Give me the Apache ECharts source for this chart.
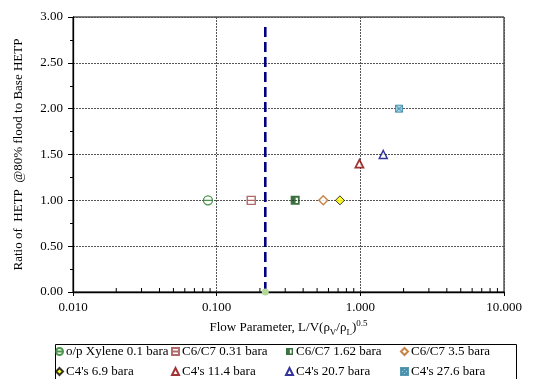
<!DOCTYPE html>
<html>
<head>
<meta charset="utf-8">
<script src="https://cdn.jsdelivr.net/npm/echarts@6/dist/echarts.min.js"></script>
<style>
  html, body { margin: 0; padding: 0; background: #fff; }
  #c { width: 545px; height: 379px; }
</style>
</head>
<body>
<div id="c"></div>
<script>
// ---------- data ----------
const seriesNames = [
  "o/p Xylene 0.1 bara", "C6/C7 0.31 bara", "C6/C7 1.62 bara", "C6/C7 3.5 bara",
  "C4's 6.9 bara", "C4's 11.4 bara", "C4's 20.7 bara", "C4's 27.6 bara"
];
const flowParam = [0.087, 0.174, 0.352, 0.552, 0.721, 0.985, 1.444, 1.86];
const hetpRatio = [1.00, 1.00, 1.00, 1.00, 1.00, 1.40, 1.50, 2.00];

// vertical dashed flood-parameter marker
const markerX = 0.218;
const markerY = [0, 2.93];

// log-axis minor tick positions (2..9 per decade)
const xMinorTicks = [
  0.02, 0.03, 0.04, 0.05, 0.06, 0.07, 0.08, 0.09,
  0.2, 0.3, 0.4, 0.5, 0.6, 0.7, 0.8, 0.9,
  2, 3, 4, 5, 6, 7, 8, 9
];

// ---------- marker styles ----------
const FONT = "'Liberation Serif', 'Times New Roman', serif";
const styles = [
  { symbol: "path://M0,5A5,5 0 1,0 10,5A5,5 0 1,0 0,5Z M0,5L10,5", size: 9,
    itemStyle: { color: "#fff", borderColor: "#1f7a1f", borderWidth: 1.3 } },
  { symbol: "path://M0,0H10V10H0Z M0,5H10", size: 8,
    itemStyle: { color: "#fff", borderColor: "#a04545", borderWidth: 1.4 } },
  { symbol: "path://M0,0H10V10H0Z M5.5,2V8H8V2Z", size: 9,
    itemStyle: { color: "#0d4d12", borderWidth: 0 } },
  { symbol: "diamond", size: 9,
    itemStyle: { color: "#fff", borderColor: "#b8651b", borderWidth: 1.4 } },
  { symbol: "diamond", size: 9,
    itemStyle: { color: "#ffff00", borderColor: "#000", borderWidth: 1 } },
  { symbol: "triangle", size: 8,
    itemStyle: { color: "#fff", borderColor: "#8b0000", borderWidth: 1.8 } },
  { symbol: "triangle", size: 8,
    itemStyle: { color: "#fff", borderColor: "#000080", borderWidth: 1.5 } },
  { symbol: "path://M0,0H10V10H0Z M0,0L10,10 M10,0L0,10", size: 7,
    itemStyle: { color: "#8cc8de", borderColor: "#2f7f9e", borderWidth: 1 } }
];

const scatterSeries = seriesNames.map((name, i) => ({
  name: name,
  type: "scatter",
  symbol: styles[i].symbol,
  symbolSize: styles[i].size,
  itemStyle: styles[i].itemStyle,
  z: 5,
  data: [[flowParam[i], hetpRatio[i]]]
}));

// legend laid out as 4 columns x 2 rows
const legendCols = [55, 171, 285, 400];
const legends = legendCols.map((left, c) => ({
  orient: "vertical",
  left: left,
  top: 345,
  padding: 0,
  itemGap: 7,
  itemWidth: 7,
  itemHeight: 7,
  selectedMode: false,
  textStyle: { fontFamily: FONT, fontSize: 13, color: "#000", padding: [0, 0, 0, -2] },
  data: [seriesNames[c], seriesNames[c + 4]]
}));

const chart = echarts.init(document.getElementById("c"), null, { renderer: "canvas" });

chart.setOption({
  animation: false,
  backgroundColor: "#fff",
  grid: {
    left: 73, right: 41, top: 17, bottom: 87,
    show: true, borderColor: "#000", borderWidth: 1
  },
  legend: legends,
  xAxis: {
    type: "log",
    logBase: 10,
    min: 0.01,
    max: 10,
    name: "{a|Flow Parameter, L/V(ρ}{sub|V}{a|/ρ}{sub|L}{a|)}{sup|0.5}",
    nameLocation: "middle",
    nameGap: 16,
    nameTextStyle: {
      color: "#000",
      rich: {
        a: { fontFamily: FONT, fontSize: 13, color: "#000", lineHeight: 18, verticalAlign: "middle" },
        sub: { fontFamily: FONT, fontSize: 9, color: "#000", lineHeight: 18, verticalAlign: "bottom" },
        sup: { fontFamily: FONT, fontSize: 9, color: "#000", lineHeight: 18, verticalAlign: "top" }
      }
    },
    axisLine: { show: true, onZero: false, lineStyle: { color: "#000", width: 1.3 } },
    axisTick: { show: true, length: 4, lineStyle: { color: "#000" } },
    minorTick: { show: false },
    axisLabel: {
      margin: 9,
      fontFamily: FONT, fontSize: 13, color: "#000",
      formatter: v => Number(v).toFixed(3)
    },
    splitLine: { show: true, lineStyle: { color: "#555", type: [2, 1], width: 1 } }
  },
  yAxis: {
    type: "value",
    min: 0,
    max: 3,
    interval: 0.5,
    name: "Ratio of  HETP  @80% flood to Base HETP",
    nameLocation: "middle",
    nameGap: 48,
    nameTextStyle: { fontFamily: FONT, fontSize: 13, color: "#000" },
    axisLine: { show: true, lineStyle: { color: "#000", width: 1.3 } },
    axisTick: { show: true, length: 5, lineStyle: { color: "#000" } },
    minorTick: { show: true, splitNumber: 2, length: 3, lineStyle: { color: "#000" } },
    axisLabel: {
      margin: 10,
      fontFamily: FONT, fontSize: 13, color: "#000",
      formatter: v => v.toFixed(2)
    },
    splitLine: { show: true, lineStyle: { color: "#555", type: [2, 1], width: 1 } }
  },
  series: [
    {
      // inner minor ticks of the log x axis
      type: "custom",
      silent: true,
      z: 3,
      data: xMinorTicks.map(v => [v, 0]),
      renderItem: (params, api) => {
        const p = api.coord([api.value(0), api.value(1)]);
        return {
          type: "line",
          shape: { x1: p[0], y1: p[1], x2: p[0], y2: p[1] - 4 },
          style: { stroke: "#000", lineWidth: 1 }
        };
      }
    },
    {
      type: "line",
      silent: true,
      z: 4,
      lineStyle: { color: "#000080", width: 2.6, type: [10, 5] },
      data: [
        { value: [markerX, markerY[0]], symbol: "circle", symbolSize: 7,
          itemStyle: { color: "#b5d99c", borderWidth: 0 } },
        { value: [markerX, markerY[1]], symbol: "none" }
      ]
    },
    ...scatterSeries
  ],
  graphic: [
    {
      type: "rect",
      left: 53, top: 342,
      shape: { width: 461, height: 60 },
      style: { fill: "none", stroke: "#000", lineWidth: 1 },
      z: -1
    }
  ]
});
</script>
</body>
</html>
